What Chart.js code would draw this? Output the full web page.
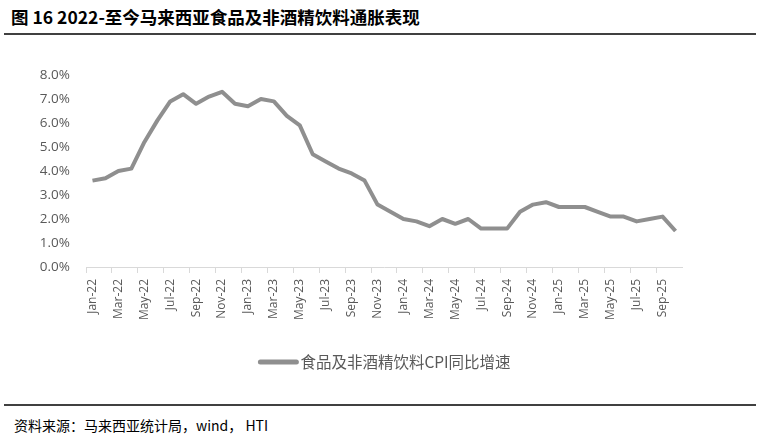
<!DOCTYPE html>
<html>
<head>
<meta charset="utf-8">
<script src="https://cdn.jsdelivr.net/npm/chart.js@4"></script>
<style>
  body { margin: 0; background: #fff; width: 761px; height: 437px; position: relative; overflow: hidden; }
  #title { position: absolute; left: 11px; top: 4px; font: bold 17.5px "Noto Sans CJK SC", sans-serif; color: #000; white-space: nowrap; }
  .rule { position: absolute; left: 4px; width: 752px; background: #404040; }
  #source { position: absolute; left: 14px; top: 415px; font: 14px "Noto Sans CJK SC", sans-serif; color: #000; white-space: nowrap; }
  #wrap { position: absolute; left: 0; top: 40px; width: 761px; height: 340px; }
</style>
</head>
<body>
<div id="title">图 16 2022-至今马来西亚食品及非酒精饮料通胀表现</div>
<div class="rule" style="top:33px;height:2px;"></div>
<div id="wrap"><canvas id="cpiChart"></canvas></div>
<div class="rule" style="top:404px;height:1.5px;"></div>
<div id="source">资料来源：马来西亚统计局，wind， HTI</div>
<script>
const months = [
    "Jan-22", "Feb-22", "Mar-22", "Apr-22", "May-22", "Jun-22", "Jul-22", "Aug-22", "Sep-22", "Oct-22", "Nov-22", "Dec-22",
    "Jan-23", "Feb-23", "Mar-23", "Apr-23", "May-23", "Jun-23", "Jul-23", "Aug-23", "Sep-23", "Oct-23", "Nov-23", "Dec-23",
    "Jan-24", "Feb-24", "Mar-24", "Apr-24", "May-24", "Jun-24", "Jul-24", "Aug-24", "Sep-24", "Oct-24", "Nov-24", "Dec-24",
    "Jan-25", "Feb-25", "Mar-25", "Apr-25", "May-25", "Jun-25", "Jul-25", "Aug-25", "Sep-25", "Oct-25"
];

// food & non-alcoholic beverages CPI, yoy %
const foodCpi = [
    3.6, 3.7, 4.0, 4.1, 5.2, 6.1, 6.9, 7.2, 6.8, 7.1, 7.3, 6.8,
    6.7, 7.0, 6.9, 6.3, 5.9, 4.7, 4.4, 4.1, 3.9, 3.6, 2.6, 2.3,
    2.0, 1.9, 1.7, 2.0, 1.8, 2.0, 1.6, 1.6, 1.6, 2.3, 2.6, 2.7,
    2.5, 2.5, 2.5, 2.3, 2.1, 2.1, 1.9, 2.0, 2.1, 1.5
];

const seriesName = "食品及非酒精饮料CPI同比增速";
const yTicks = [0, 1, 2, 3, 4, 5, 6, 7, 8];

const lineColor = "#8f8f8f";
const axisColor = "#d9d9d9";
const labelColor = "#595959";

// legend centred under the page, drawn as a short thick line + text
const bottomLegend = {
    id: "bottomLegend",
    afterDraw(chart) {
        const c = chart.ctx;
        const ds = chart.data.datasets[0];
        c.save();
        c.font = "15.5px 'Noto Sans CJK SC'";
        const textW = c.measureText(ds.label).width;
        const lineW = 40, gap = 2;
        const x0 = chart.width / 2 + 4 - (lineW + gap + textW) / 2;
        const y = 322;
        c.strokeStyle = ds.borderColor;
        c.lineWidth = 5;
        c.lineCap = "round";
        c.beginPath();
        c.moveTo(x0 + 2, y);
        c.lineTo(x0 + lineW - 2, y);
        c.stroke();
        c.fillStyle = labelColor;
        c.textBaseline = "middle";
        c.fillText(ds.label, x0 + lineW + gap, y);
        c.restore();
    }
};

const ctx = document.getElementById("cpiChart").getContext("2d");

new Chart(ctx, {
    type: "line",
    data: {
        labels: months,
        datasets: [{
            label: seriesName,
            data: foodCpi,
            borderColor: lineColor,
            backgroundColor: lineColor,
            borderWidth: 4,
            pointRadius: 0,
            tension: 0,
            borderJoinStyle: "round"
        }]
    },
    options: {
        responsive: true,
        maintainAspectRatio: false,
        animation: false,
        layout: {
            padding: { left: 0, right: 79, top: 35, bottom: 35 }
        },
        plugins: {
            tooltip: { enabled: false },
            legend: { display: false }
        },
        scales: {
            x: {
                offset: true,
                grid: {
                    offset: true,
                    drawOnChartArea: false,
                    drawTicks: true,
                    tickLength: 6,
                    color: ctx => (ctx.index % 2 === 0 ? axisColor : "rgba(0,0,0,0)")
                },
                border: { color: axisColor, width: 1 },
                ticks: {
                    autoSkip: false,
                    minRotation: 90,
                    maxRotation: 90,
                    padding: 6,
                    color: labelColor,
                    font: { family: "'Open Sans'", size: 12 },
                    callback: function (value, index) {
                        return index % 2 === 0 ? this.getLabelForValue(value) : "";
                    }
                },
                afterFit: scale => { scale.height = 78; }
            },
            y: {
                min: 0,
                max: 8,
                afterBuildTicks: scale => { scale.ticks = yTicks.map(v => ({ value: v })); },
                grid: { display: false },
                border: { display: false },
                ticks: {
                    padding: 8,
                    color: labelColor,
                    font: { family: "'Open Sans'", size: 13.5 },
                    callback: v => v.toFixed(1) + "%"
                },
                afterFit: scale => { scale.width = 86; }
            }
        }
    },
    plugins: [bottomLegend]
});
</script>
</body>
</html>
